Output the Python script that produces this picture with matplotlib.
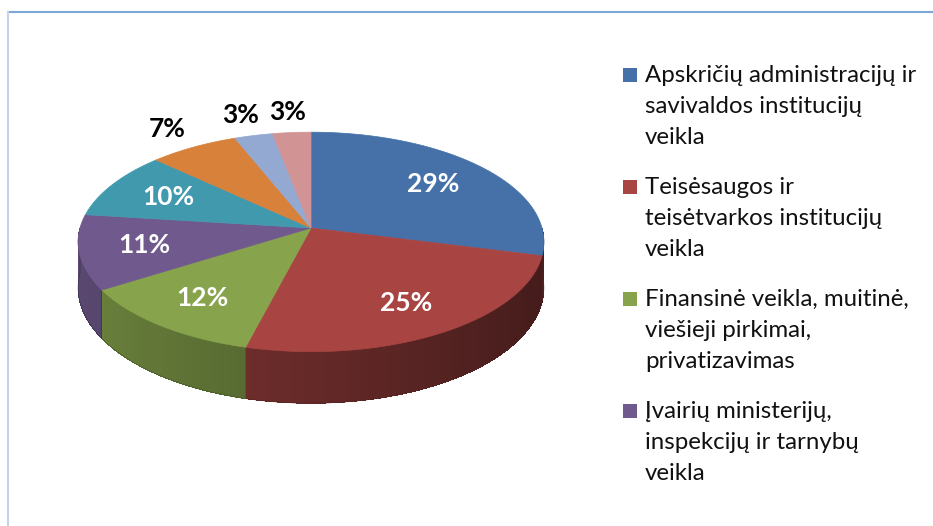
import numpy as np
import matplotlib.pyplot as plt
from matplotlib.patches import Polygon

categories = [
    "Apskričių administracijų ir\nsavivaldos institucijų\nveikla",
    "Teisėsaugos ir\nteisėtvarkos institucijų\nveikla",
    "Finansinė veikla, muitinė,\nviešieji pirkimai,\nprivatizavimas",
    "Įvairių ministerijų,\ninspekcijų ir tarnybų\nveikla",
    "Kita 1", "Kita 2", "Kita 3", "Kita 4",
]
shares = [29, 25, 12, 11, 10, 7, 3, 3]
colors = ["#4571a8", "#a84543", "#87a44c", "#705a8d", "#4199ae",
          "#d8813b", "#93a9d1", "#d19393"]
legend_count = 4  # the legend in the picture only shows the first four

W, H = 933, 526
fig = plt.figure(figsize=(W / 100, H / 100), dpi=100)
ax = fig.add_axes([0, 0, 1, 1])
ax.set_xlim(0, W)
ax.set_ylim(H, 0)
ax.axis("off")

# frame lines (top and left visible in the picture)
ax.plot([8, W], [12, 12], color="#7ca6d3", lw=1.5)
ax.plot([8, 8], [12, H], color="#c3d4ea", lw=1.5)

# pseudo-3D pie geometry, pixel space
cx, cy, rx, ry, k, depth = 311, 228, 231, 108, 0.127, 45


def proj(theta, drop=0.0):
    u = np.sin(theta)
    v = -np.cos(theta)
    s = 1.0 / (1.0 - k * v)
    return cx + rx * u * s, cy + ry * v * s + drop * s


def rgb(c):
    c = c.lstrip("#")
    return np.array([int(c[i:i + 2], 16) for i in (0, 2, 4)]) / 255.0


vals = np.array(shares, dtype=float)
bounds = np.concatenate([[0], np.cumsum(vals) / vals.sum() * 2 * np.pi])

# side walls (front half only)
for i in range(len(vals)):
    a0, a1 = max(bounds[i], np.pi / 2), min(bounds[i + 1], 1.5 * np.pi)
    if a1 <= a0:
        continue
    steps = np.linspace(a0, a1, max(int(np.degrees(a1 - a0)), 2) + 1)
    base = rgb(colors[i])
    for t0, t1 in zip(steps[:-1], steps[1:]):
        tm = 0.5 * (t0 + t1)
        f = 0.6 - 0.2 * np.sin(tm)
        col = np.clip(base * f, 0, 1)
        te = min(t1 + 0.01, a1)
        p = [proj(t0), proj(te), proj(te, depth), proj(t0, depth)]
        ax.add_patch(Polygon(p, closed=True, facecolor=col, edgecolor="none",
                             antialiased=False))
    # smooth outline of the wall
    t = np.linspace(a0, a1, 80)
    outline = [proj(a) for a in t] + [proj(a, depth) for a in t[::-1]]
    ax.add_patch(Polygon(outline, closed=True, facecolor="none",
                         edgecolor=np.clip(base * 0.5, 0, 1), lw=0.4))

# top faces
for i in range(len(vals)):
    t = np.linspace(bounds[i], bounds[i + 1], 100)
    pts = [(cx, cy)] + [proj(a) for a in t]
    ax.add_patch(Polygon(pts, closed=True, facecolor=colors[i],
                         edgecolor=colors[i], lw=0.5))

# percentage labels
for i, v in enumerate(shares):
    mid = 0.5 * (bounds[i] + bounds[i + 1])
    inside = v >= 8
    fr = 0.72 if inside else 1.22
    x, y = cx + (proj(mid)[0] - cx) * fr, cy + (proj(mid)[1] - cy) * fr
    ax.text(x, y, f"{v}%", ha="center", va="center", fontsize=19,
            fontweight="bold", family="Lato",
            color="white" if inside else "black")

# legend
lx, ly, step, line_h = 623, 75, 112, 31.5
for i in range(legend_count):
    y0 = ly + i * step
    ax.add_patch(Polygon([(lx, y0 - 7), (lx + 14, y0 - 7), (lx + 14, y0 + 7),
                          (lx, y0 + 7)], closed=True, facecolor=colors[i],
                         edgecolor="none"))
    for j, line in enumerate(categories[i].split("\n")):
        ax.text(lx + 22, y0 + j * line_h, line, ha="left", va="center",
                fontsize=17.3, family="Lato", color="#111111")

fig.savefig("out.png", dpi=100)
